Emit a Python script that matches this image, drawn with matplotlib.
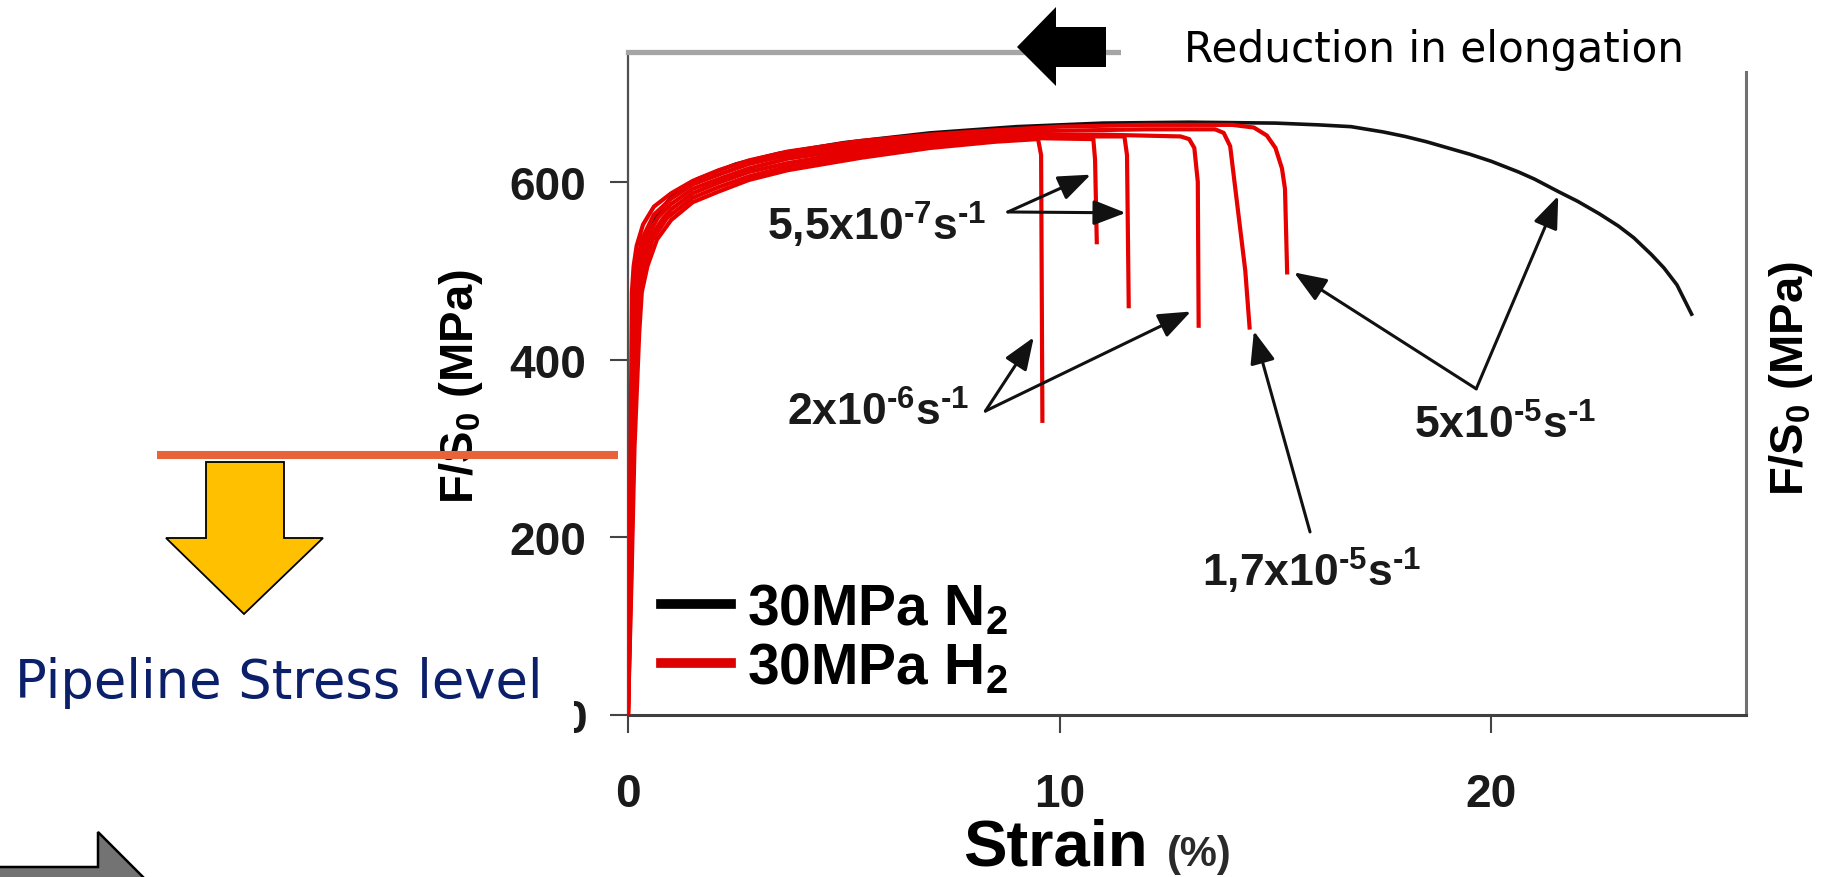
import matplotlib
matplotlib.use("Agg")
import matplotlib.pyplot as plt
from matplotlib.patches import Polygon, Rectangle
from matplotlib.lines import Line2D
from matplotlib.transforms import blended_transform_factory

# ---------------------------
# Data (strain %, F/S0 MPa)
# ---------------------------

n2_strain = [0, 0.05, 0.1, 0.15, 0.25, 0.5, 1.0, 1.6, 2.5, 3.5, 5.0, 7.0, 9.0, 11.0, 13.0,
             15.0, 16.0, 16.75, 17.5, 18.0, 18.5, 19.07, 19.5, 20.0, 20.63, 21.0, 21.55,
             22.0, 22.5, 22.95, 23.3, 23.71, 24.0, 24.3, 24.64]
n2_stress = [0, 200, 400, 480, 520, 552, 583, 603, 620, 632, 644, 655, 662, 666, 667,
             666, 664, 662, 656, 651, 645, 637, 631, 623, 611, 603, 589,
             578, 564, 550, 537, 518, 503, 484, 451]

# H2 tests, one per strain rate, from the lowest to the highest hardening
h2_a_strain = [0, 0.08, 0.15, 0.26, 0.32, 0.45, 0.67, 1.0, 1.5, 2.1, 2.8, 3.7, 5.4, 7.0, 8.5,
               9.5, 9.57, 9.6]
h2_a_stress = [0, 150, 300, 430, 476, 505, 535, 557, 577, 589, 602, 613, 627, 638, 645,
               648, 630, 331]

h2_b_strain = [0, 0.07, 0.13, 0.22, 0.28, 0.38, 0.57, 0.9, 1.0, 1.5, 2.1, 2.8, 3.7, 5.4, 7.0,
               8.5, 9.5, 10.78, 10.82, 10.86]
h2_b_stress = [0, 150, 300, 440, 476, 505, 535, 559, 563, 582, 594, 606, 617, 631, 641,
               647, 649, 648, 625, 532]

h2_c_strain = [0, 0.06, 0.11, 0.18, 0.23, 0.31, 0.48, 0.8, 1.0, 1.5, 2.1, 2.8, 3.7, 5.4, 7.0,
               8.5, 9.5, 11.5, 11.56, 11.6]
h2_c_stress = [0, 150, 300, 440, 476, 505, 535, 558, 569, 587, 599, 611, 621, 635, 644,
               650, 651, 651, 630, 460]

h2_d_strain = [0, 0.05, 0.09, 0.15, 0.18, 0.25, 0.4, 0.7, 1.0, 1.5, 2.1, 2.8, 3.7, 5.4, 7.0,
               8.5, 9.5, 11.0, 12.8, 13.0, 13.12, 13.2, 13.22]
h2_d_stress = [0, 150, 300, 440, 476, 505, 535, 560, 575, 592, 603, 615, 626, 638, 647,
               652, 653, 653, 651, 648, 638, 600, 438]

h2_e_strain = [0, 0.04, 0.08, 0.12, 0.14, 0.2, 0.32, 0.6, 1.0, 1.5, 2.1, 2.8, 3.7, 5.4, 7.0,
               8.5, 9.5, 12.0, 13.6, 13.8, 13.95, 14.15, 14.3, 14.4]
h2_e_stress = [0, 150, 300, 450, 476, 505, 535, 563, 581, 597, 608, 620, 630, 642, 650,
               655, 657, 659, 659, 655, 640, 560, 500, 436]

h2_f_strain = [0, 0.03, 0.06, 0.09, 0.13, 0.2, 0.35, 0.6, 1.0, 1.5, 2.1, 2.8, 3.7, 5.4, 7.0,
               8.5, 10.0, 12.0, 14.0, 14.5, 14.8, 15.0, 15.15, 15.22, 15.27]
h2_f_stress = [0, 150, 300, 476, 505, 528, 552, 572, 587, 601, 613, 624, 634, 646, 653,
               658, 662, 664, 664, 661, 652, 638, 615, 592, 498]

h2_curves = [(h2_a_strain, h2_a_stress), (h2_b_strain, h2_b_stress), (h2_c_strain, h2_c_stress),
             (h2_d_strain, h2_d_stress), (h2_e_strain, h2_e_stress), (h2_f_strain, h2_f_stress)]

# strain-rate labels: text, text anchor, arrow start, arrow ends
rate_labels = [r"5,5x10$^{\text{-7}}$s$^{\text{-1}}$", r"2x10$^{\text{-6}}$s$^{\text{-1}}$",
               r"1,7x10$^{\text{-5}}$s$^{\text{-1}}$", r"5x10$^{\text{-5}}$s$^{\text{-1}}$"]
rate_text_xy = [(3.22, 535), (3.69, 327), (13.3, 145), (18.2, 312)]
rate_arrow_from = [(8.8, 566), (8.28, 342), (15.8, 206), (19.65, 367)]
rate_arrow_to = [[(10.72, 608), (11.53, 565)],
                 [(9.4, 425), (13.04, 454)],
                 [(14.5, 432)],
                 [(15.43, 498), (21.55, 584)]]

pipeline_stress = 292
x_ticks = [0, 10, 20]
y_ticks = [0, 200, 400, 600]

W, H = 1824, 878
RED = "#e60000"
NAVY = "#0b1f6a"


def px(x, y):
    """figure pixel (from top left) -> figure fraction"""
    return x / W, 1 - y / H


plt.rcParams["font.family"] = ["Liberation Sans", "DejaVu Sans"]
plt.rcParams["font.weight"] = "bold"
plt.rcParams["axes.labelweight"] = "bold"
plt.rcParams["mathtext.fontset"] = "custom"
plt.rcParams["mathtext.rm"] = "Liberation Sans:bold"
plt.rcParams["mathtext.bf"] = "Liberation Sans:bold"
plt.rcParams["mathtext.it"] = "Liberation Sans:italic"
plt.rcParams["mathtext.default"] = "bf"

fig = plt.figure(figsize=(W / 100, H / 100), dpi=100)
ax = fig.add_axes([628 / W, 1 - 716 / H, (1746 - 628) / W, (716 - 53) / H])

ax.plot(n2_strain, n2_stress, color="#111111", lw=2.6, zorder=2)
for s, f in h2_curves:
    ax.plot(s, f, color=RED, lw=3.0, zorder=3, solid_joinstyle="round")

ax.set_xlim(0, 25.9)
ax.set_ylim(0, 746)
ax.set_xticks(x_ticks)
ax.set_yticks(y_ticks)
ax.tick_params(axis="both", direction="out", length=13, width=1.5, color="#444444",
               labelsize=33, labelcolor="#1a1a1a")
ax.tick_params(axis="y", pad=17)
ax.tick_params(axis="x", pad=28)

ax.spines["left"].set_color("#505050")
ax.spines["left"].set_linewidth(1.6)
ax.spines["bottom"].set_color("#404040")
ax.spines["bottom"].set_linewidth(2.2)
ax.spines["right"].set_color("#707070")
ax.spines["right"].set_linewidth(2.2)
ax.spines["top"].set_color("#a5a5a5")
ax.spines["top"].set_linewidth(3.8)

# axis labels
ax.set_ylabel(r"F/S$_0$ (MPa)", fontsize=34, fontweight="bold", va="center")
ax.yaxis.set_label_coords((461 - 628) / 1118, (716 - 387) / 663)
ax.set_xlabel("Strain", fontsize=47, fontweight="bold", ha="left", va="baseline")
ax.xaxis.set_label_coords((963 - 628) / 1118, (716 - 866) / 663)
ax.text((1167 - 628) / 1118, (716 - 866) / 663, "(%)", transform=ax.transAxes,
        fontsize=30, fontweight="bold", color="#2a2a2a", ha="left", va="baseline")

# rate annotations
for lab, txy, start, ends in zip(rate_labels, rate_text_xy, rate_arrow_from, rate_arrow_to):
    ax.text(txy[0], txy[1], lab, fontsize=32, color="#1a1a1a", ha="left", va="baseline")
    for end in ends:
        ax.annotate("", xy=end, xytext=start,
                    arrowprops=dict(arrowstyle="-|>,head_length=0.9,head_width=0.35",
                                    color="#111111", lw=2.2, mutation_scale=22,
                                    shrinkA=0, shrinkB=0))

# legend
handles = [Line2D([], [], color="black", lw=7), Line2D([], [], color="#dd0000", lw=7)]
ax.legend(handles, [r"30MPa N$_2$", r"30MPa H$_2$"], loc="upper left",
          bbox_to_anchor=((661 - 628) / 1118, (716 - 583) / 663), frameon=False,
          fontsize=41, handlelength=1.23, handletextpad=0.28, labelspacing=0.08,
          borderpad=0, borderaxespad=0)

# right-hand axis label of the neighbouring panel
fig.text(*px(1791, 379), r"F/S$_0$ (MPa)", rotation=90, ha="center", va="center", fontsize=34)

# ---------------------------
# slide overlays
# ---------------------------

# pipeline stress level line (data y, figure x)
trans = blended_transform_factory(fig.transFigure, ax.transData)
fig.add_artist(Line2D([157 / W, 618 / W], [pipeline_stress, pipeline_stress], transform=trans,
                      color="#e8623a", lw=5.8, solid_capstyle="butt", zorder=6))

yellow = [(206, 463), (284, 463), (284, 539), (323, 539), (244, 615), (166, 539), (206, 539)]
fig.add_artist(Polygon([px(x, y) for x, y in yellow], closed=True, transform=fig.transFigure,
                       facecolor="#ffc000", edgecolor="black", lw=1.3, zorder=6))

fig.add_artist(Rectangle(px(0, 740), 574 / W, 100 / H, transform=fig.transFigure,
                         facecolor="white", edgecolor="none", zorder=5))
fig.text(*px(15, 698), "Pipeline Stress level", family="DejaVu Sans", weight="normal",
         fontsize=38, color=NAVY, ha="left", va="baseline", zorder=7)

fig.add_artist(Rectangle(px(1121, 72), (1752 - 1121) / W, 72 / H, transform=fig.transFigure,
                         facecolor="white", edgecolor="none", zorder=5))
fig.text(*px(1184, 62), "Reduction in elongation", family="DejaVu Sans", weight="normal",
         fontsize=30.3, color="black", ha="left", va="baseline", zorder=7)

black_arrow = [(1017, 48), (1056, 8), (1056, 28), (1106, 28), (1106, 68), (1056, 68), (1056, 87)]
fig.add_artist(Polygon([px(x, y) for x, y in black_arrow], closed=True, transform=fig.transFigure,
                       facecolor="black", edgecolor="none", zorder=6))

gray_arrow = [(-10, 868), (98, 868), (98, 833), (150, 885), (98, 937), (98, 902), (-10, 902)]
fig.add_artist(Polygon([px(x, y) for x, y in gray_arrow], closed=True, transform=fig.transFigure,
                       facecolor="#737373", edgecolor="black", lw=1.8, zorder=6))

fig.savefig("out.png", dpi=100)
